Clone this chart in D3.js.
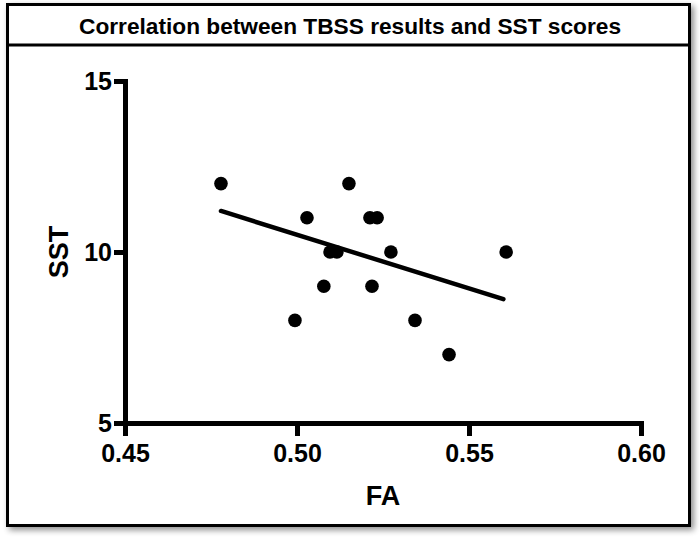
<!DOCTYPE html>
<html><head><meta charset="utf-8">
<script src="https://cdn.jsdelivr.net/npm/d3@7"></script>
<style>body{margin:0;background:#fff}svg{display:block}text{font-family:"Liberation Sans",Arial,sans-serif;font-weight:bold;fill:#000}</style>
</head><body>
<script>
const title = "Correlation between TBSS results and SST scores";
const xLabel = "FA";
const yLabel = "SST";
const faValues  = [0.4779,0.5029,0.5151,0.5212,0.5233,0.5096,0.5116,0.5273,0.5608,0.5078,0.5218,0.4994,0.5343,0.5442];
const sstValues = [12,11,12,11,11,10,10,10,10,9,9,8,8,7];
const xTicks = [0.45,0.50,0.55,0.60];
const yTicks = [5,10,15];
const fitX = [0.4779,0.5600];
const fitY = [11.2,8.62];

const W=700,H=541;
const svg=d3.select("body").append("svg").attr("width",W).attr("height",H);
const defs=svg.append("defs");
const f=defs.append("filter").attr("id","sh").attr("x","-5%").attr("y","-5%").attr("width","110%").attr("height","110%");
f.append("feGaussianBlur").attr("in","SourceAlpha").attr("stdDeviation",3);
f.append("feOffset").attr("dx",3).attr("dy",3).attr("result","b");
f.append("feComponentTransfer").append("feFuncA").attr("type","linear").attr("slope",0.45);
const m=f.append("feMerge");m.append("feMergeNode");m.append("feMergeNode").attr("in","SourceGraphic");

// frame
svg.append("rect").attr("x",7.5).attr("y",4.5).attr("width",682).attr("height",521)
  .attr("fill","#fff").attr("stroke","#000").attr("stroke-width",3).attr("filter","url(#sh)");
svg.append("line").attr("x1",7.5).attr("x2",689.5).attr("y1",45).attr("y2",45).attr("stroke","#000").attr("stroke-width",3);
svg.append("text").attr("x",350).attr("y",34).attr("text-anchor","middle").attr("font-size",22)
  .attr("textLength",542).attr("lengthAdjust","spacingAndGlyphs").text(title);

const x=d3.scaleLinear().domain([0.45,0.60]).range([125,641]);
const y=d3.scaleLinear().domain([5,15]).range([423,81]);

const xa=svg.append("g").attr("transform","translate(0,423)")
  .call(d3.axisBottom(x).tickValues(xTicks).tickFormat(d3.format(".2f")).tickSize(13).tickSizeOuter(0).tickPadding(8));
const ya=svg.append("g").attr("transform","translate(125,0)")
  .call(d3.axisLeft(y).tickValues(yTicks).tickSize(11).tickSizeOuter(0).tickPadding(2));
[xa,ya].forEach(a=>{
  a.select(".domain").attr("stroke","#000").attr("stroke-width",5).attr("stroke-linecap","square");
  a.selectAll(".tick line").attr("stroke","#000").attr("stroke-width",5);
  a.selectAll(".tick text").attr("font-family","Liberation Sans, Arial, sans-serif").attr("font-weight","bold").attr("font-size",25).attr("fill","#000");
});

svg.append("text").attr("transform","translate(68,252) rotate(-90)").attr("text-anchor","middle").attr("font-size",27).text(yLabel);
svg.append("text").attr("x",383).attr("y",505).attr("text-anchor","middle").attr("font-size",27).text(xLabel);

svg.append("line").attr("x1",x(fitX[0])).attr("y1",y(fitY[0])).attr("x2",x(fitX[1])).attr("y2",y(fitY[1]))
  .attr("stroke","#000").attr("stroke-width",4.5).attr("stroke-linecap","round");

svg.append("g").selectAll("circle").data(faValues.map((v,i)=>[v,sstValues[i]])).join("circle")
  .attr("cx",d=>x(d[0])).attr("cy",d=>y(d[1])).attr("r",6.8).attr("fill","#000");
</script>
</body></html>
